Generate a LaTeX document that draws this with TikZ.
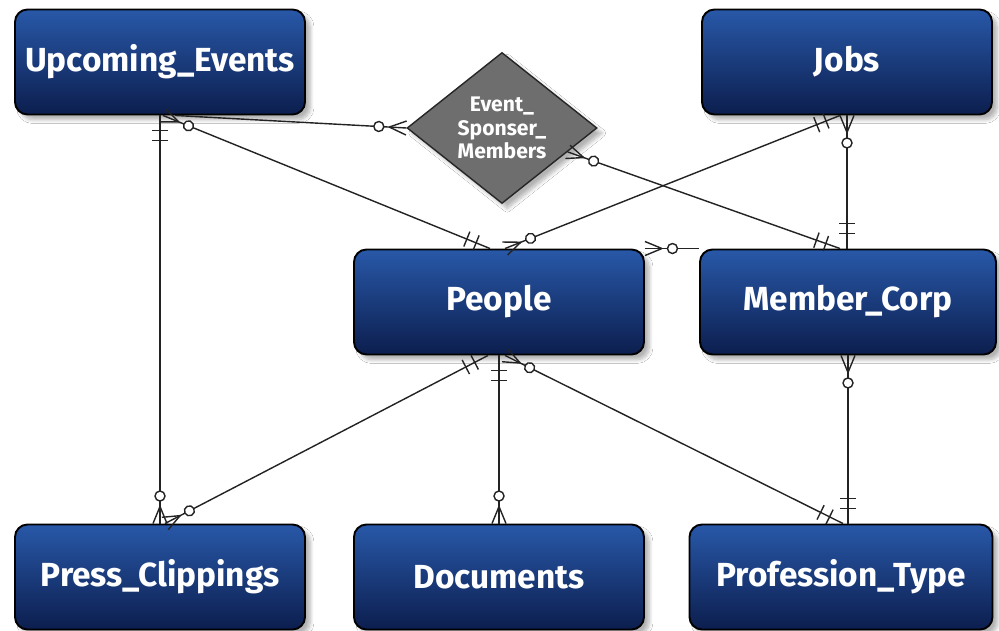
\documentclass[tikz,border=0pt]{standalone}
\usepackage{fontspec}
\setmainfont{Fira Sans}
\usetikzlibrary{shapes.geometric,decorations.markings,shadows.blur}

\definecolor{boxtop}{RGB}{40,88,168}
\definecolor{boxbot}{RGB}{12,30,78}
\definecolor{relgray}{RGB}{110,110,110}
\definecolor{linec}{RGB}{35,35,35}

\tikzset{
	entity/.style={draw=black, line width=1.1pt, rounded corners=0.25cm,
		top color=boxtop, bottom color=boxbot,
		minimum width=5.8cm, minimum height=2.1cm, text=white,
		font=\bfseries\fontsize{19}{21}\selectfont,
		blur shadow={shadow xshift=3pt, shadow yshift=-3pt, shadow opacity=30, shadow blur steps=8}},
	relation/.style={diamond, draw=black!85, line width=0.8pt, fill=relgray,
		minimum width=3.8cm, minimum height=3.02cm, aspect=1.26, inner sep=0pt,
		text=white, align=center, font=\bfseries\fontsize{12}{13.5}\selectfont,
		blur shadow={shadow xshift=3pt, shadow yshift=-3pt, shadow opacity=30, shadow blur steps=8}},
	conn/.style={draw=linec, line width=0.8pt},
	% много (ноль или много)
	manystart/.style={postaction={decorate, decoration={markings,
		mark=at position 0.34cm with {\draw[conn] (0,0) -- (-0.34cm,0.14cm) (0,0) -- (-0.34cm,-0.14cm);},
		mark=at position 0.55cm with {\draw[conn, fill=white] (0,0) circle (0.1cm);}}}},
	manyend/.style={postaction={decorate, decoration={markings,
		mark=at position -0.34cm with {\draw[conn] (0,0) -- (0.34cm,0.14cm) (0,0) -- (0.34cm,-0.14cm);},
		mark=at position -0.55cm with {\draw[conn, fill=white] (0,0) circle (0.1cm);}}}},
	% ровно один
	onestart/.style={postaction={decorate, decoration={markings,
		mark=at position 0.3cm with {\draw[conn] (0,-0.16cm) -- (0,0.16cm);},
		mark=at position 0.5cm with {\draw[conn] (0,-0.16cm) -- (0,0.16cm);}}}},
	oneend/.style={postaction={decorate, decoration={markings,
		mark=at position -0.3cm with {\draw[conn] (0,-0.16cm) -- (0,0.16cm);},
		mark=at position -0.5cm with {\draw[conn] (0,-0.16cm) -- (0,0.16cm);}}}}
}

\begin{document}
\begin{tikzpicture}
	\path[use as bounding box, fill=white] (0,0) rectangle (19.98,12.62);

	% Верхний ряд
	\node[entity] (up) at (3.2,11.38) {Upcoming\_Events};
	\node[entity] (jobs) at (16.94,11.38) {Jobs};
	\node[relation] (dia) at (10.04,10.06) {Event\_\\Sponser\_\\Members};

	% Средний ряд
	\node[entity] (people) at (9.98,6.58) {People};
	\node[entity, minimum width=5.92cm] (member) at (16.96,6.58) {Member\_Corp};

	% Нижний ряд
	\node[entity] (press) at (3.2,1.08) {Press\_Clippings};
	\node[entity] (docs) at (9.98,1.08) {Documents};
	\node[entity, minimum width=6.06cm] (prof) at (16.82,1.08) {Profession\_Type};

	% Связи
	\draw[conn, onestart, manyend] (up.south) -- (press.north);
	\draw[conn, manystart, oneend] ([xshift=0.06cm]up.south) -- ([xshift=-0.18cm]people.north);
	\draw[conn, manyend] ([xshift=0.3cm]up.south) -- (dia.west);
	\draw[conn, manystart, oneend] (dia.-20) -- ([xshift=-0.16cm]member.north);
	\draw[conn, manystart, oneend] ([xshift=0.12cm]people.north) -- ([xshift=-0.14cm]jobs.south);
	\draw[conn, manystart, oneend] (jobs.south) -- (jobs.south |- member.north);
	\draw[conn, manystart] (people.north east) -- (member.north west);
	\draw[conn, onestart, manyend] ([xshift=-0.22cm]people.south) -- ([xshift=0.1cm]press.north);
	\draw[conn, onestart, manyend] (people.south) -- (people.south |- docs.north);
	\draw[conn, manystart, oneend] ([xshift=0.12cm]people.south) -- ([xshift=0.04cm]prof.north);
	\draw[conn, manystart, oneend] (member.south) -- (member.south |- prof.north);
\end{tikzpicture}
\end{document}
